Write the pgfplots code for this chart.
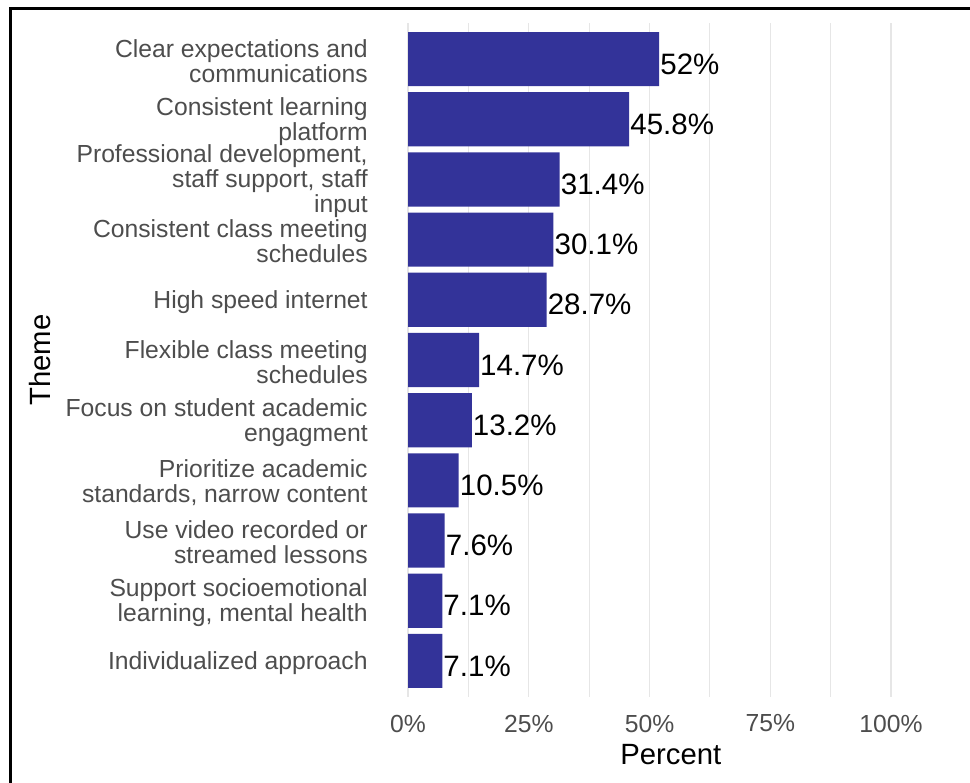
\documentclass[border=0pt]{standalone}
\usepackage{fontspec}
\setmainfont{Liberation Sans}
\usepackage{pgfplots}
\pgfplotsset{compat=1.18}
\definecolor{barblue}{HTML}{333399}
\definecolor{gridgray}{HTML}{E6E6E6}
\definecolor{ticktext}{HTML}{4D4D4D}

\begin{document}
\begin{tikzpicture}
\useasboundingbox (0,0) rectangle (970bp,783bp);
\begin{axis}[
  at={(383.85bp,86bp)}, anchor=south west,
  scale only axis, width=570bp, height=674bp,
  xbar, bar width=0.9, bar shift=0pt,
  xmin=-5, xmax=113, ymin=0.4, ymax=11.6, y dir=reverse,
  axis line style={draw=none},
  major tick length=0pt, minor tick length=0pt,
  xtick={0,25,50,75,100},
  xticklabels={0\%,25\%,50\%,75\%,100\%},
  minor xtick={12.5,37.5,62.5,87.5},
  xmajorgrids, xminorgrids,
  major grid style={gridgray, line width=1.2bp},
  minor grid style={gridgray, line width=0.9bp},
  ytick={1,...,11},
  yticklabels={
    {Clear expectations and\\communications},
    {Consistent learning\\platform},
    {Professional development,\\staff support, staff\\input},
    {Consistent class meeting\\schedules},
    {High speed internet},
    {Flexible class meeting\\schedules},
    {Focus on student academic\\engagment},
    {Prioritize academic\\standards, narrow content},
    {Use video recorded or\\streamed lessons},
    {Support socioemotional\\learning, mental health},
    {Individualized approach}},
  ticklabel style={font=\fontsize{24.7bp}{25bp}\selectfont, text=ticktext},
  xticklabel style={anchor=center, yshift=-26.5bp},
  yticklabel style={anchor=east, align=right, inner sep=0pt, xshift=-16bp, yshift=-2bp},
  xlabel={Percent}, ylabel={Theme},
  label style={font=\fontsize{29.3bp}{32bp}\selectfont},
  xlabel style={at={(axis description cs:0.5035,-0.086)}, anchor=center},
  ylabel style={at={(axis description cs:-0.6035,0.5)}, anchor=center},
  nodes near coords, point meta=explicit symbolic,
  nodes near coords style={anchor=west, inner sep=1bp, yshift=-5bp,
    font=\fontsize{29.5bp}{30bp}\selectfont, text=black},
]
\addplot[fill=barblue, draw=none] coordinates {
  (52,1) [52\%]
  (45.8,2) [45.8\%]
  (31.4,3) [31.4\%]
  (30.1,4) [30.1\%]
  (28.7,5) [28.7\%]
  (14.7,6) [14.7\%]
  (13.2,7) [13.2\%]
  (10.5,8) [10.5\%]
  (7.6,9) [7.6\%]
  (7.1,10) [7.1\%]
  (7.1,11) [7.1\%]
};
\end{axis}
\draw[line width=3bp] (10bp,-2bp) -- (10bp,774.5bp) -- (972bp,774.5bp);
\end{tikzpicture}
\end{document}
